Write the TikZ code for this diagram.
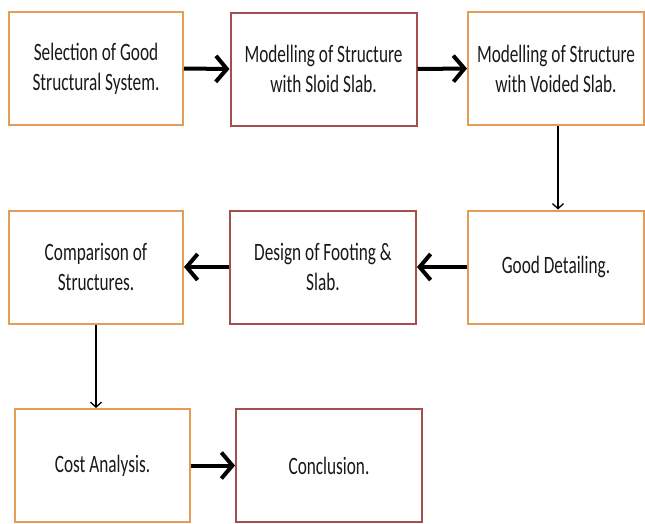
\documentclass[tikz,border=0pt]{standalone}
\usepackage{fontspec}
\setmainfont[FakeStretch=0.69]{Carlito}
\usepackage{tikz}
\usetikzlibrary{arrows.meta}
\definecolor{boxorange}{RGB}{229,156,88}
\definecolor{boxred}{RGB}{165,78,78}

\begin{document}
\begin{tikzpicture}[x=1pt, y=-1pt,
  stage/.style={draw=boxorange, line width=2pt, minimum width=174pt, minimum height=113pt, align=center, inner sep=2pt, text=black!90, font=\fontsize{25}{30}\selectfont},
  redstage/.style={stage, draw=boxred, minimum width=186pt},
  bigarrow/.style={-{Straight Barb[length=11pt, width=26pt, line width=4pt]}, line width=4pt, black},
  smallarrow/.style={-{Straight Barb[length=5pt, width=11pt]}, line width=1.3pt, black}]
\useasboundingbox (0, 0) rectangle (645, 523);

\node [stage] (select) at (96, 68.5) {Selection of Good\\Structural System.};
\node [redstage] (solid) at (323.5, 69) {Modelling of Structure\\with Sloid Slab.};
\node [stage, minimum width=176pt] (voided) at (556, 68.5) {Modelling of Structure\\with Voided Slab.};

\node [stage, minimum width=176pt] (detail) at (556, 267) {Good Detailing.};
\node [redstage] (footing) at (323, 267) {Design of Footing \&\\Slab.};
\node [stage] (compare) at (96, 267) {Comparison of\\Structures.};

\node [stage, minimum width=175pt] (cost) at (102.5, 465.5) {Cost Analysis.};
\node [redstage] (concl) at (329, 465.5) {Conclusion.};

\draw [bigarrow] (select.east) -- (solid.west);
\draw [bigarrow] (solid.east) -- (voided.west);
\draw [smallarrow] (voided.south -| 558, 0) -- (detail.north -| 558, 0);
\draw [bigarrow] (detail.west) -- (footing.east);
\draw [bigarrow] (footing.west) -- (compare.east);
\draw [smallarrow] (compare.south) -- (compare.south |- cost.north);
\draw [bigarrow] (cost.east) -- (concl.west);
\end{tikzpicture}
\end{document}
